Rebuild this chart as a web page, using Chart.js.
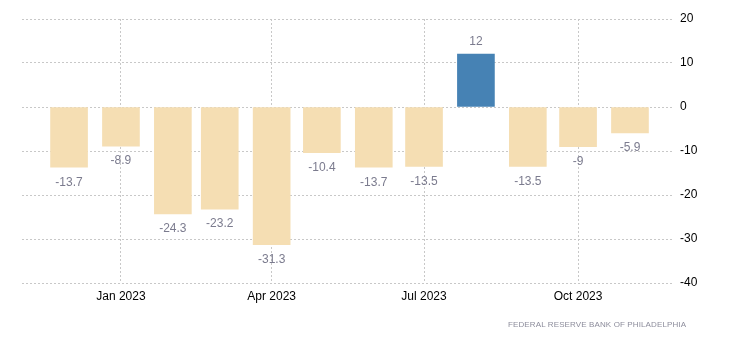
<!DOCTYPE html>
<html>
<head>
<meta charset="utf-8">
<script src="https://cdn.jsdelivr.net/npm/chart.js@4/dist/chart.umd.min.js"></script>
<style>
html,body{margin:0;padding:0;background:#fff;}
#wrap{position:relative;width:730px;height:351px;}
#src{position:absolute;left:508px;top:320px;font:8px "Liberation Sans",Arial,sans-serif;color:#8d8d9c;letter-spacing:0.12px;white-space:nowrap;}
</style>
</head>
<body>
<div id="wrap">
<canvas id="c" width="730" height="351"></canvas>
<div id="src">FEDERAL RESERVE BANK OF PHILADELPHIA</div>
</div>
<script>
const months = ['2022-12','2023-01','2023-02','2023-03','2023-04','2023-05','2023-06','2023-07','2023-08','2023-09','2023-10','2023-11'];
const values = [-13.7,-8.9,-24.3,-23.2,-31.3,-10.4,-13.7,-13.5,12,-13.5,-9,-5.9];
const tickMonths = ['2023-01','2023-04','2023-07','2023-10'];
const tickLabels = ['Jan 2023','Apr 2023','Jul 2023','Oct 2023'];
const yTicks = [20,10,0,-10,-20,-30,-40];

const DAY = 86400000;
const toMs = m => { const [y,mo] = m.split('-').map(Number); return Date.UTC(y,mo-1,1); };
const points = months.map((m,i)=>({x:toMs(m), y:values[i]}));
const xMin = toMs(months[0]) - 28.1*DAY;
const xMax = toMs(months[months.length-1]) + 25.7*DAY;

const labelPlugin = {
  id:'vlabels',
  afterDatasetsDraw(chart){
    const ctx = chart.ctx;
    const meta = chart.getDatasetMeta(0);
    ctx.save();
    ctx.font = '12px "Liberation Sans", Arial, sans-serif';
    ctx.fillStyle = '#7b7b8e';
    ctx.textAlign = 'center';
    ctx.textBaseline = 'middle';
    meta.data.forEach((bar,i)=>{
      const v = values[i];
      const y = v >= 0 ? bar.y - 13 : bar.y + 15;
      ctx.fillText(String(v), bar.x, y);
    });
    ctx.restore();
  }
};

new Chart(document.getElementById('c'), {
  type:'bar',
  data:{
    datasets:[{
      data: points,
      backgroundColor: values.map(v => v >= 0 ? '#4682b4' : '#f5deb3'),
      barThickness: 37,
      borderWidth: 0
    }]
  },
  options:{
    responsive:false,
    animation:false,
    layout:{padding:{top:19,left:22,right:0,bottom:0}},
    plugins:{legend:{display:false},tooltip:{enabled:false}},
    scales:{
      x:{
        type:'linear',
        offset:false,
        min:xMin, max:xMax,
        afterBuildTicks(scale){ scale.ticks = tickMonths.map(m=>({value:toMs(m)})); },
        afterFit(scale){ scale.height = 68; },
        ticks:{
          autoSkip:false, maxRotation:0, padding:6,
          color:'#000',
          font:{family:'"Liberation Sans", Arial, sans-serif', size:12},
          callback:(v)=>{ const i = tickMonths.map(toMs).indexOf(v); return i>=0 ? tickLabels[i] : ''; }
        },
        grid:{offset:false, color:'#c8c8c8', drawTicks:false, lineWidth:1},
        border:{display:false, dash:[2,2]}
      },
      y:{
        position:'right',
        min:-40, max:20,
        afterBuildTicks(scale){ scale.ticks = yTicks.map(v=>({value:v})); },
        afterFit(scale){ scale.width = 57; },
        ticks:{
          padding:7, color:'#000',
          font:{family:'"Liberation Sans", Arial, sans-serif', size:12}
        },
        grid:{color:'#c8c8c8', drawTicks:false, lineWidth:1},
        border:{display:false, dash:[2,2]}
      }
    }
  },
  plugins:[labelPlugin]
});
</script>
</body>
</html>
